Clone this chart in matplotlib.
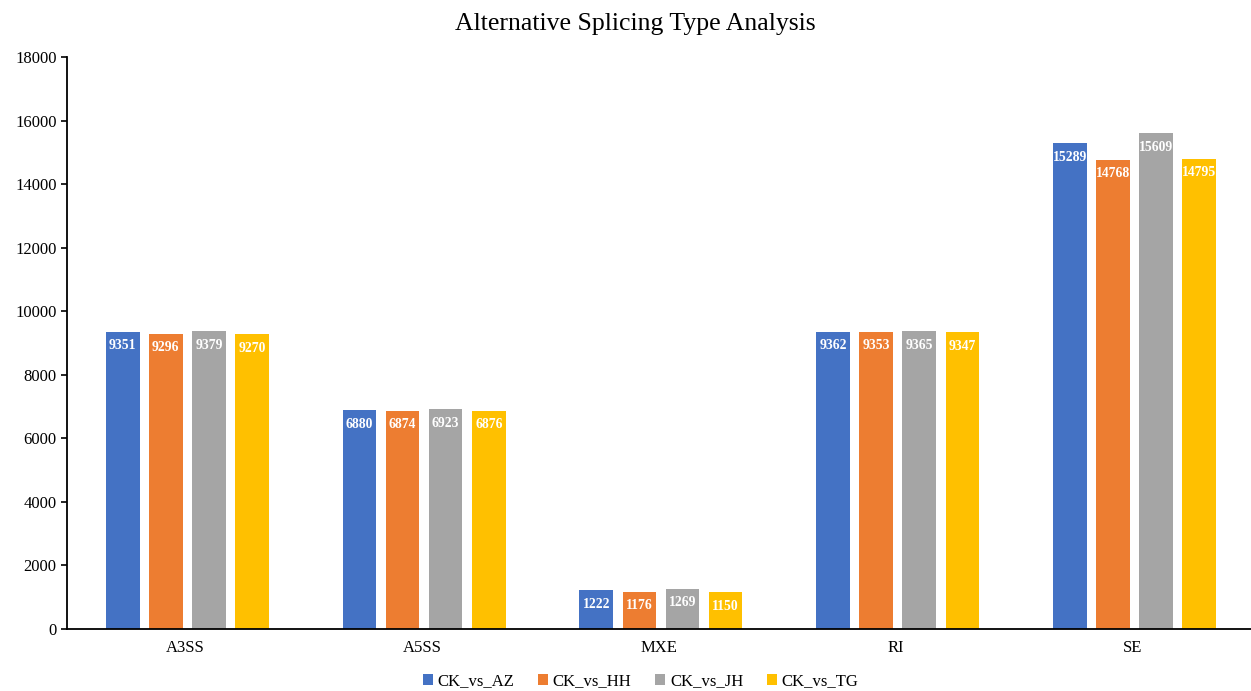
import matplotlib
matplotlib.use("Agg")
import matplotlib.pyplot as plt
import numpy as np

# splicing event counts per comparison
categories = ["A3SS", "A5SS", "MXE", "RI", "SE"]
series_names = ["CK_vs_AZ", "CK_vs_HH", "CK_vs_JH", "CK_vs_TG"]
ck_vs_az = [9351, 6880, 1222, 9362, 15289]
ck_vs_hh = [9296, 6874, 1176, 9353, 14768]
ck_vs_jh = [9379, 6923, 1269, 9365, 15609]
ck_vs_tg = [9270, 6876, 1150, 9347, 14795]
colors = ["#4472C4", "#ED7D31", "#A5A5A5", "#FFC000"]

plt.rcParams["font.family"] = ["Liberation Serif", "DejaVu Serif"]

fig = plt.figure(figsize=(12.51, 6.91), dpi=100)
ax = fig.add_axes([0.0536, 0.0897, 0.9464, 0.8278])

x = np.arange(len(categories))
width = 0.142
step = 0.182
all_series = [ck_vs_az, ck_vs_hh, ck_vs_jh, ck_vs_tg]
for i, (name, vals, c) in enumerate(zip(series_names, all_series, colors)):
    pos = x + (i - 1.5) * step + 0.008
    bars = ax.bar(pos, vals, width, color=c, label=name, zorder=2)
    for b, v in zip(bars, vals):
        ax.annotate(str(v), (b.get_x() + b.get_width() / 2, v),
                    xytext=(0, -5.5), textcoords="offset points",
                    ha="center", va="top", color="white",
                    fontsize=9.8, fontweight="bold")

ax.set_xlim(-0.5, len(categories) - 0.5)
ax.set_ylim(0, 18000)
ax.set_yticks(range(0, 18001, 2000))
ax.set_xticks(x)
ax.set_xticklabels(categories, fontsize=12)
ax.tick_params(axis="y", labelsize=12, length=4, width=1.2, direction="out")
ax.tick_params(axis="x", length=0, pad=8)
for s in ["top", "right"]:
    ax.spines[s].set_visible(False)
for s in ["left", "bottom"]:
    ax.spines[s].set_linewidth(1.3)

fig.text(0.508, 0.965, "Alternative Splicing Type Analysis", ha="center",
         va="center", fontsize=18.5)

fig.legend(loc="center", bbox_to_anchor=(0.512, 0.014), ncol=4, frameon=False,
           fontsize=12, handlelength=0.6, handleheight=0.6, handletextpad=0.3,
           columnspacing=1.4)

fig.savefig("out.png", dpi=100)
